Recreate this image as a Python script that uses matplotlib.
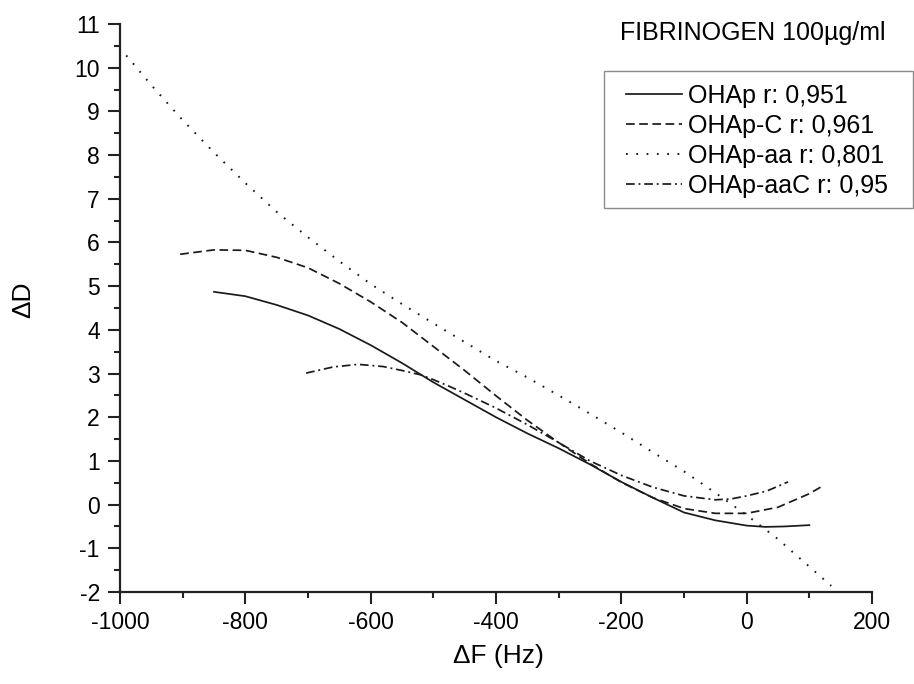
import numpy as np
import matplotlib
matplotlib.use("Agg")
import matplotlib.pyplot as plt
from matplotlib.ticker import MultipleLocator
from matplotlib.patches import Rectangle

plt.rcParams['font.family'] = ['Liberation Sans', 'DejaVu Sans']
plt.rcParams['axes.unicode_minus'] = False

# OHAp (solid)
x_ohap = [-850, -800, -750, -700, -650, -600, -550, -500, -450, -400, -350,
          -300, -250, -200, -150, -100, -50, 0, 30, 60, 100]
y_ohap = [4.87, 4.77, 4.57, 4.33, 4.02, 3.65, 3.24, 2.80, 2.40, 2.00, 1.63,
          1.29, 0.92, 0.52, 0.16, -0.18, -0.36, -0.48, -0.51, -0.50, -0.47]

# OHAp-C (dashed)
x_ohap_c = [-904, -850, -800, -750, -700, -650, -600, -550, -500, -450, -400,
            -350, -300, -250, -200, -150, -100, -50, 0, 50, 100, 124]
y_ohap_c = [5.73, 5.83, 5.82, 5.66, 5.42, 5.06, 4.64, 4.17, 3.62, 3.07, 2.49,
            1.93, 1.42, 0.94, 0.51, 0.16, -0.09, -0.20, -0.20, -0.06, 0.25, 0.45]

# OHAp-aa (dotted)
x_ohap_aa = [-990, -950, -900, -850, -800, -750, -700, -650, -600, -550, -500,
             -450, -400, -350, -300, -250, -200, -150, -100, -50, 0, 50, 100, 135]
y_ohap_aa = [10.28, 9.60, 8.80, 8.06, 7.36, 6.70, 6.12, 5.57, 5.05, 4.59, 4.15,
             3.72, 3.29, 2.91, 2.50, 2.08, 1.65, 1.20, 0.76, 0.27, -0.24, -0.79, -1.42, -1.86]

# OHAp-aaC (dash-dot)
x_ohap_aac = [-703, -660, -620, -580, -550, -520, -500, -475, -450, -400, -350,
              -300, -250, -200, -150, -100, -50, -25, 0, 32, 66]
y_ohap_aac = [3.01, 3.15, 3.21, 3.16, 3.07, 2.97, 2.86, 2.71, 2.55, 2.21, 1.83,
              1.42, 1.00, 0.67, 0.40, 0.20, 0.11, 0.13, 0.20, 0.31, 0.52]

labels = ["OHAp r: 0,951", "OHAp-C r: 0,961", "OHAp-aa r: 0,801", "OHAp-aaC r: 0,95"]

W, H = 914, 684
fig = plt.figure(figsize=(W / 100, H / 100), dpi=100)
ax = fig.add_axes([120 / W, 1 - 592 / H, (872 - 120) / W, (592 - 24) / H])

col = "#1a1a1a"
lw = 1.25
ax.plot(x_ohap, y_ohap, color=col, lw=lw, ls='-', label=labels[0])
ax.plot(x_ohap_c, y_ohap_c, color=col, lw=lw, ls=(0, (5.0, 2.6)), label=labels[1])
ax.plot(x_ohap_aa, y_ohap_aa, color=col, lw=1.4, ls=(0, (0.9, 4.4)), label=labels[2])
ax.plot(x_ohap_aac, y_ohap_aac, color=col, lw=lw, ls=(0, (5.0, 2.2, 1.1, 2.2)), label=labels[3])

ax.set_xlim(-1000, 200)
ax.set_ylim(-2, 11)
ax.xaxis.set_major_locator(MultipleLocator(200))
ax.xaxis.set_minor_locator(MultipleLocator(100))
ax.yaxis.set_major_locator(MultipleLocator(1))
ax.yaxis.set_minor_locator(MultipleLocator(0.5))

for s in ['top', 'right']:
    ax.spines[s].set_visible(False)
for s in ['left', 'bottom']:
    ax.spines[s].set_linewidth(1.6)
    ax.spines[s].set_color('#222222')

ax.tick_params(which='major', direction='out', length=8.5, width=1.5, labelsize=16.5, pad=5,
               color='#222222')
ax.tick_params(which='minor', direction='out', length=4.3, width=1.5, color='#222222')
ax.tick_params(axis='y', which='major', pad=6)

ax.set_xlabel("\u0394F (Hz)", fontsize=19)
ax.set_ylabel("\u0394D", fontsize=19)
ax.xaxis.set_label_coords((498 - 120) / 752, (592 - 644) / 568)
ax.yaxis.set_label_coords((35 - 120) / 752, (592 - 300) / 568)

fig.text(886 / W, 1 - 33 / H, "FIBRINOGEN 100\u00b5g/ml", fontsize=18, ha='right', va='center')

# legend frame drawn separately so the inner padding can match
fig.patches.append(Rectangle((604 / W, 1 - 208 / H), 309 / W, 137 / H, transform=fig.transFigure,
                             fill=False, edgecolor='#8a8a8a', linewidth=1.0))
leg = fig.legend(loc='upper left', bbox_to_anchor=(626 / W, 1 - 84 / H), fontsize=18,
                 frameon=False, handlelength=2.25, handletextpad=0.22, labelspacing=0.24,
                 borderpad=0, borderaxespad=0)

fig.savefig("out.png", dpi=100)
